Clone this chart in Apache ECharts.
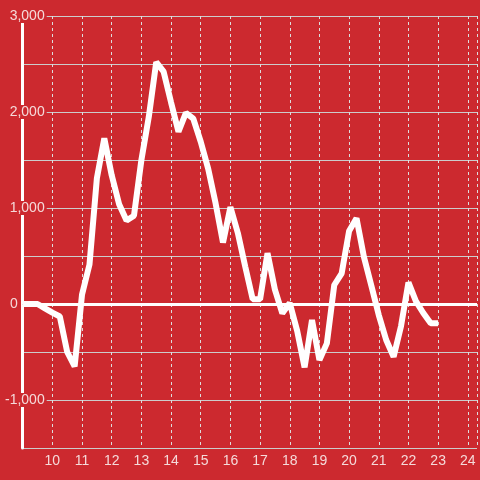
<!DOCTYPE html>
<html>
<head>
<meta charset="utf-8">
<script src="https://cdn.jsdelivr.net/npm/echarts@6/dist/echarts.min.js"></script>
<style>
    html, body { margin: 0; padding: 0; background: #cc292f; }
    #chart { width: 480px; height: 480px; }
</style>
</head>
<body>
<div id="chart"></div>
<script>
// hour of day for each sample
var hours = [9, 9.25, 9.5, 9.75, 10, 10.25, 10.5, 10.75, 11, 11.25, 11.5, 11.75,
    12, 12.25, 12.5, 12.75, 13, 13.25, 13.5, 13.75, 14, 14.25, 14.5, 14.75,
    15, 15.25, 15.5, 15.75, 16, 16.25, 16.5, 16.75, 17, 17.25, 17.5, 17.75,
    18, 18.25, 18.5, 18.75, 19, 19.25, 19.5, 19.75, 20, 20.25, 20.5, 20.75,
    21, 21.25, 21.5, 21.75, 22, 22.25, 22.5, 22.75, 23];
var values = [0, 0, 0, -45, -90, -130, -500, -650, 100, 410, 1310, 1725,
    1340, 1040, 870, 920, 1500, 1950, 2520, 2420, 2100, 1795, 1990, 1930,
    1690, 1410, 1050, 640, 1010, 740, 390, 50, 50, 530, 150, -97,
    10, -280, -660, -167, -583, -410, 198, 320, 760, 893, 490, 190,
    -115, -375, -550, -230, 225, 30, -94, -200, -200];
var yLabelValues = [-1000, 0, 1000, 2000, 3000];
var xLabelValues = [10, 11, 12, 13, 14, 15, 16, 17, 18, 19, 20, 21, 22, 23, 24];

var bg = '#cc292f';
var labelColor = '#f5dada';
var fontFamily = '"Liberation Sans", Arial, sans-serif';

var chart = echarts.init(document.getElementById('chart'));
var option = {
    backgroundColor: bg,
    animation: false,
    grid: {
        left: 21,
        right: 0,
        top: 16,
        bottom: 32,
    },
    xAxis: {
        type: 'value',
        min: 9,
        max: 24.31,
        interval: 1,
        axisLine: {
            show: true,
            lineStyle: { color: '#cccccc', width: 1 },
        },
        axisTick: { show: false },
        axisLabel: {
            color: labelColor,
            fontSize: 14,
            fontFamily: fontFamily,
            margin: 6,
            formatter: function (v) {
                return xLabelValues.indexOf(v) >= 0 ? String(v) : '';
            },
        },
        splitLine: {
            show: true,
            lineStyle: { color: '#dddddd', width: 1, type: [3, 3] },
        },
    },
    yAxis: {
        type: 'value',
        min: -1500,
        max: 3000,
        interval: 500,
        axisLine: {
            show: true,
            lineStyle: { color: '#ffffff', width: 3 },
        },
        axisTick: { show: false },
        axisLabel: {
            color: labelColor,
            fontSize: 14,
            fontFamily: fontFamily,
            margin: -24,
            formatter: function (v) {
                if (yLabelValues.indexOf(v) < 0) {
                    return '';
                }
                // the zero label sits left of the axis, the others overlap it
                return v === 0 ? '{z|0}' : '{n|' + v.toLocaleString('en-US') + '}';
            },
            rich: {
                n: {
                    color: labelColor,
                    fontSize: 14,
                    fontFamily: fontFamily,
                    backgroundColor: bg,
                    lineHeight: 13,
                    padding: [0, 2, 0, 2],
                },
                z: {
                    color: labelColor,
                    fontSize: 14,
                    fontFamily: fontFamily,
                    padding: [0, 29, 0, 0],
                },
            },
        },
        splitLine: {
            show: true,
            lineStyle: { color: '#cccccc', width: 1 },
        },
    },
    series: [{
        type: 'line',
        data: hours.map(function (h, i) { return [h, values[i]]; }),
        symbol: 'none',
        lineStyle: { color: '#ffffff', width: 6 },
        markLine: {
            silent: true,
            symbol: 'none',
            label: { show: false },
            lineStyle: { color: '#ffffff', width: 3, type: 'solid' },
            data: [{ yAxis: 0 }],
        },
    }],
};
chart.setOption(option);
</script>
</body>
</html>
